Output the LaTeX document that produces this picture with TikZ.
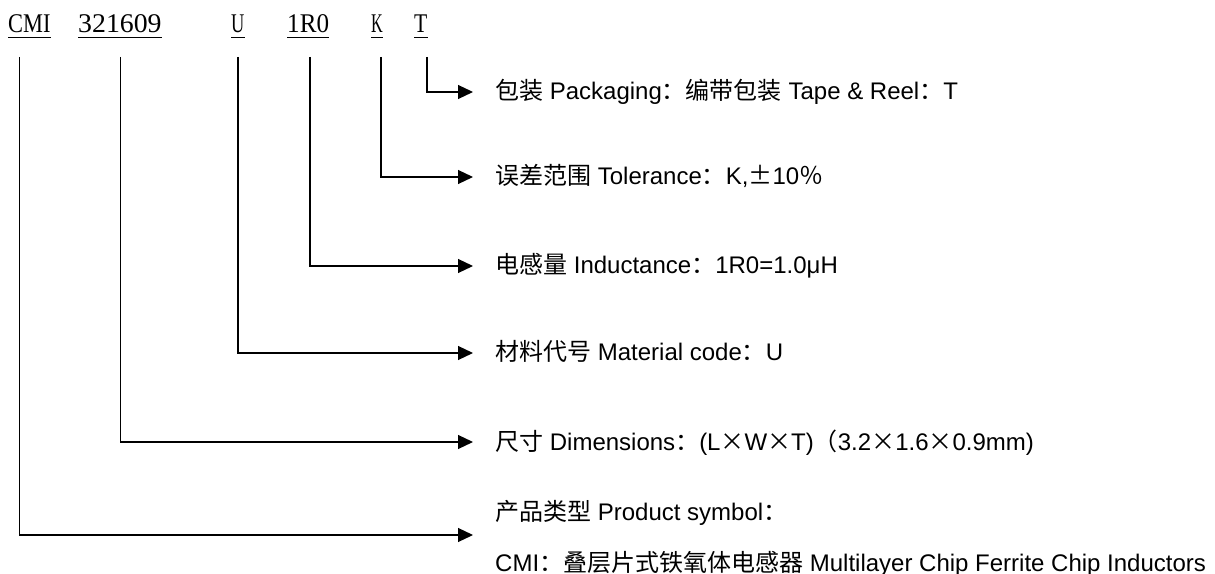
\documentclass[tikz,border=0pt]{standalone}
\usepackage{fontspec}
\setmainfont{Liberation Sans}
\newfontfamily\cjk{Noto Sans CJK SC}
\newfontfamily\codefont{Liberation Serif}
\usetikzlibrary{arrows.meta}
\begin{document}
\begin{tikzpicture}[x=1bp,y=-1bp,
  code/.style={anchor=base west,inner sep=0pt,font=\codefont\fontsize{27bp}{30bp}\selectfont},
  desc/.style={anchor=base west,inner sep=0pt,font=\fontsize{24bp}{28bp}\selectfont},
  conn/.style={line width=1.2bp,line join=miter,-{Triangle[length=15bp,width=14bp]}},
  uline/.style={line width=1.3bp}]
\useasboundingbox (0,0) rectangle (1215,574);
% code labels
\node[code] (lCMI) at (8,33) {\scalebox{0.83}[1]{CMI}};
\node[code] (l321) at (78,33) {\scalebox{1.03}[1]{321609}};
\node[code] (lU)   at (231,33) {\scalebox{0.68}[1]{U}};
\node[code] (l1R0) at (287,33) {\scalebox{0.93}[1]{1R0}};
\node[code] (lK)   at (371,33) {\scalebox{0.6}[1]{K}};
\node[code] (lT)   at (414,33) {\scalebox{0.8}[1]{T}};
\foreach \n in {lCMI,l321,lU,l1R0,lK,lT}
  \draw[uline] ([yshift=-4.5bp]\n.base west) -- ([yshift=-4.5bp]\n.base east);
% descriptions
\node[desc] (dT) at (495,100) {{\cjk 包装} Packaging{\cjk ：编带包装} Tape \& Reel{\cjk ：}T};
\node[desc] (dK) at (495,185) {{\cjk 误差范围} Tolerance{\cjk ：}K,{\cjk ±}10{\cjk ％}};
\node[desc] (dR) at (495,274) {{\cjk 电感量} Inductance{\cjk ：}1R0=1.0μH};
\node[desc] (dU) at (495,361) {{\cjk 材料代号} Material code{\cjk ：}U};
\node[desc] (dD) at (495,450) {{\cjk 尺寸} Dimensions{\cjk ：}(L{\cjk ×}W{\cjk ×}T){\cjk （}3.2{\cjk ×}1.6{\cjk ×}0.9mm)};
\node[desc] (dP) at (495,520) {{\cjk 产品类型} Product symbol{\cjk ：}};
\node[desc] (dC) at (495,571) {CMI{\cjk ：叠层片式铁氧体电感器} Multilayer Chip Ferrite Chip Inductors};
% connector start and end points
\coordinate (sCMI) at (19.5,57);
\coordinate (s321) at (120.5,57);
\coordinate (sU)   at (238,57);
\coordinate (s1R0) at (310,57);
\coordinate (sK)   at (381,57);
\coordinate (sT)   at (427,57);
\coordinate (eT)   at (473,92);
\coordinate (eK)   at (473,177);
\coordinate (eR)   at (473,266);
\coordinate (eU)   at (473,353);
\coordinate (eD)   at (473,442);
\coordinate (eC)   at (473,535);
\draw[conn] (sT) |- (eT);
\draw[conn] (sK) |- (eK);
\draw[conn] (s1R0) |- (eR);
\draw[conn] (sU) |- (eU);
\draw[conn] (s321) |- (eD);
\draw[conn] (sCMI) |- (eC);
\end{tikzpicture}
\end{document}
